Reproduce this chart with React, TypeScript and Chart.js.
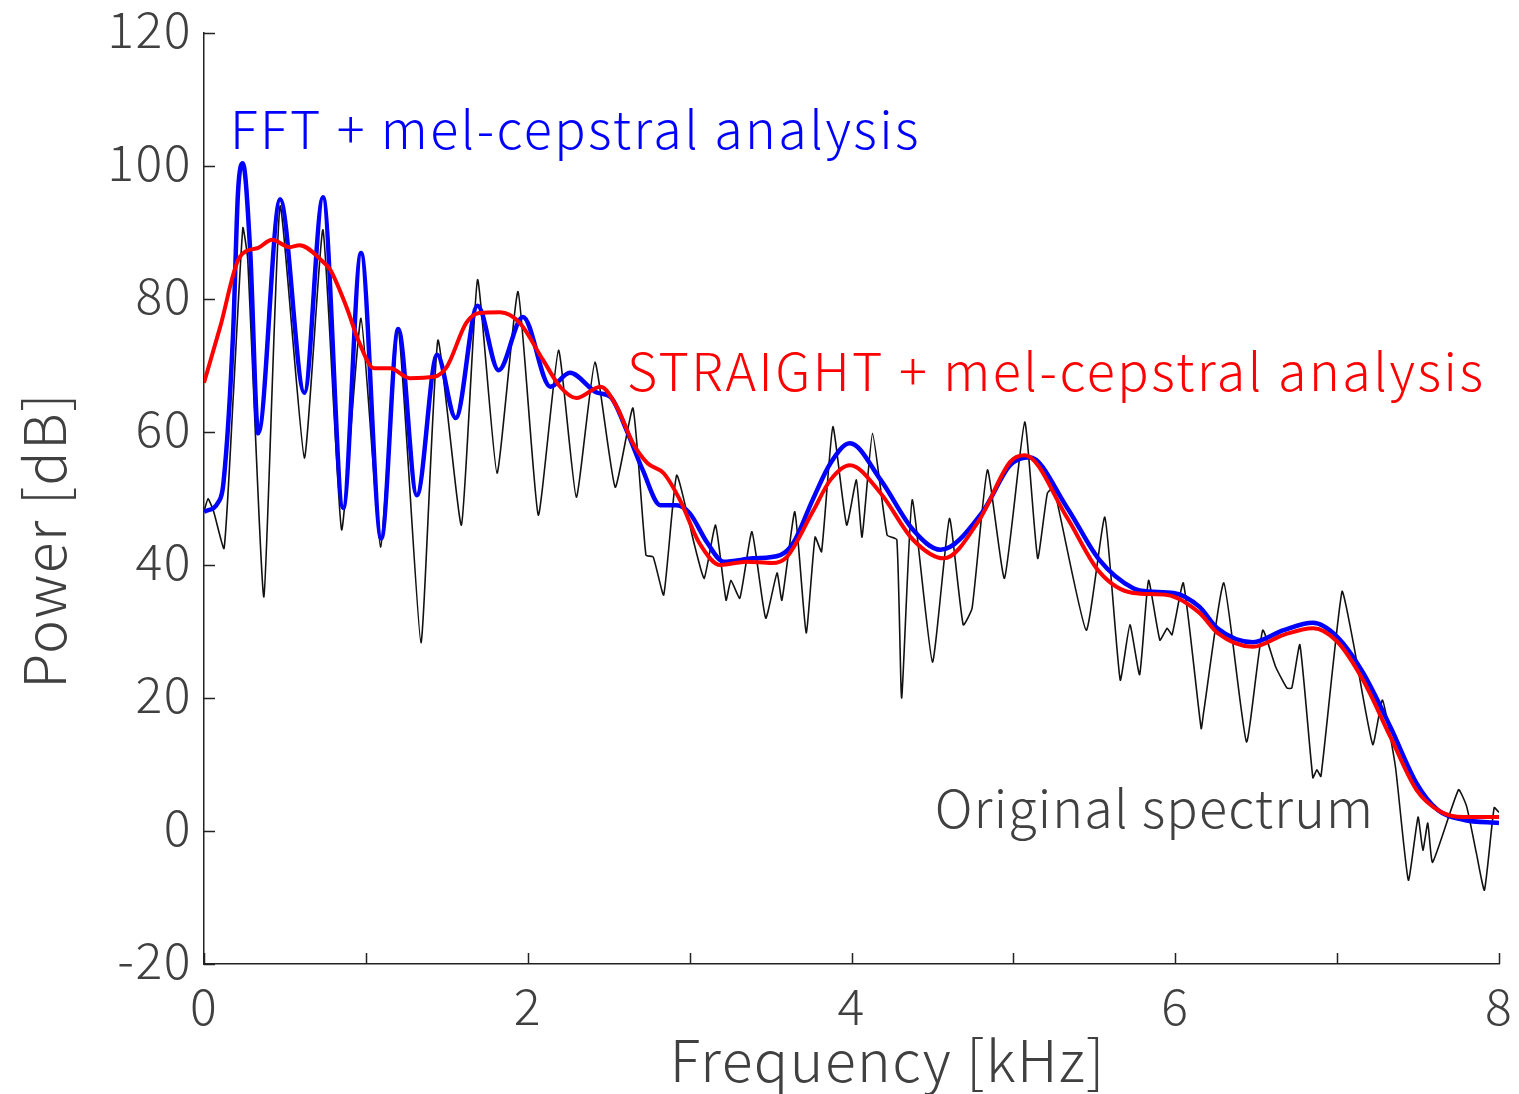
import React, { useEffect, useRef } from "react";
import { Chart, registerables } from "chart.js";

Chart.register(...registerables);

// Original spectrum (black)
const origX = [0, 0.025, 0.06, 0.124, 0.18, 0.24, 0.27, 0.37, 0.47, 0.62, 0.735, 0.85, 0.97, 1.09, 1.2, 1.34, 1.445, 1.59, 1.69, 1.81, 1.94, 2.065, 2.19, 2.3, 2.415, 2.54, 2.65, 2.73, 2.775, 2.84, 2.92, 3.03, 3.09, 3.16, 3.225, 3.255, 3.31, 3.385, 3.47, 3.54, 3.57, 3.65, 3.72, 3.775, 3.815, 3.885, 3.97, 4.03, 4.065, 4.13, 4.22, 4.28, 4.31, 4.375, 4.5, 4.605, 4.69, 4.745, 4.84, 4.945, 5.07, 5.15, 5.21, 5.25, 5.45, 5.565, 5.66, 5.72, 5.78, 5.835, 5.905, 5.95, 5.98, 6.05, 6.16, 6.175, 6.3, 6.44, 6.54, 6.62, 6.69, 6.72, 6.77, 6.85, 6.875, 6.9, 7.03, 7.1, 7.22, 7.28, 7.36, 7.44, 7.5, 7.53, 7.56, 7.59, 7.75, 7.8, 7.86, 7.91, 7.97, 8.0];
const origY = [48, 50, 48, 42.5, 65, 90.7, 86, 35.2, 94, 56.1, 90.4, 45.3, 77.1, 42.7, 75.6, 28.3, 73.8, 46, 82.9, 53.8, 81.1, 47.5, 72.3, 50.2, 70.5, 51.7, 63.6, 41.5, 41.2, 35.5, 53.5, 43, 38, 46, 34.7, 37.7, 35, 45, 32, 38.8, 34.7, 48, 29.8, 44.2, 42, 60.8, 46, 52.8, 44.2, 59.8, 44.5, 43.8, 20, 49.8, 25.4, 47, 31, 33.5, 54.3, 38, 61.5, 41, 50.8, 51.6, 30.2, 47.2, 22.7, 31, 23.5, 37.7, 28.7, 30.5, 29.5, 37.3, 15.4, 17.8, 37.3, 13.4, 30.2, 24.7, 21.5, 21.5, 28, 8, 9.2, 8.2, 36, 28.3, 13, 19.7, 9.7, -7.4, 2.1, -2.9, 1.2, -4.7, 6.2, 3.7, -3.3, -8.9, 3.5, 2.8];

// FFT + mel-cepstral analysis (blue)
const fftX = [0, 0.09, 0.12, 0.18, 0.21, 0.24, 0.285, 0.335, 0.47, 0.62, 0.735, 0.86, 0.97, 1.095, 1.2, 1.315, 1.44, 1.555, 1.69, 1.82, 1.97, 2.14, 2.26, 2.43, 2.51, 2.61, 2.71, 2.82, 2.92, 3.0, 3.11, 3.21, 3.39, 3.56, 3.64, 3.76, 3.87, 3.99, 4.18, 4.38, 4.55, 4.81, 4.98, 5.1, 5.33, 5.53, 5.74, 5.84, 5.99, 6.15, 6.26, 6.48, 6.67, 6.85, 7.0, 7.16, 7.33, 7.49, 7.62, 7.78, 8.0];
const fftY = [48, 49.5, 52.3, 75, 96, 100.4, 87.4, 59.8, 95, 65.9, 95.3, 48.6, 86.9, 44, 75.5, 50.5, 71.6, 62.1, 79, 69.3, 77.3, 66.8, 68.9, 65.9, 65.3, 60.3, 54.3, 49, 49, 47.8, 43.3, 40.5, 41, 41.5, 43.3, 49.8, 55.3, 58.3, 52.8, 45.3, 42.3, 48, 55, 56.2, 48.7, 40.8, 36.5, 36, 35.8, 33.7, 30.5, 28.4, 30.2, 31.3, 29.2, 23.8, 15.6, 7.2, 3.2, 1.7, 1.2];

// STRAIGHT + mel-cepstral analysis (red)
const strX = [0, 0.1, 0.22, 0.335, 0.42, 0.53, 0.59, 0.735, 0.78, 0.88, 0.96, 1.05, 1.15, 1.27, 1.42, 1.5, 1.62, 1.7, 1.83, 1.95, 2.095, 2.2, 2.3, 2.45, 2.55, 2.65, 2.74, 2.84, 2.94, 3.06, 3.19, 3.35, 3.51, 3.6, 3.76, 3.87, 3.99, 4.18, 4.38, 4.57, 4.79, 4.98, 5.07, 5.33, 5.53, 5.74, 5.95, 6.15, 6.26, 6.48, 6.67, 6.85, 7.0, 7.16, 7.33, 7.49, 7.64, 7.78, 8.0];
const strY = [67.4, 75.8, 86.3, 87.7, 88.9, 87.8, 88.1, 85.6, 84.4, 78.8, 73.4, 69.6, 69.6, 68.1, 68.3, 69.8, 76.4, 77.9, 78, 76.4, 70.8, 66.8, 65.1, 66.8, 63.8, 58.3, 55.3, 53.8, 49.8, 43.3, 40, 40.5, 40.3, 41.2, 48, 52.8, 55, 50.8, 43.8, 41, 46.8, 55.5, 56.5, 47.2, 39, 35.8, 35.5, 32.8, 29.8, 27.7, 29.5, 30.5, 28.5, 22.7, 14.1, 6.2, 2.9, 2.1, 2.1];

const yTicks = [-20, 0, 20, 40, 60, 80, 100, 120];
const xTickLabels = ["0", "", "2", "", "4", "", "6", "", "8"];
const xTitle = "Frequency [kHz]";
const yTitle = "Power [dB]";

const labelTexts = ["FFT + mel-cepstral analysis", "STRAIGHT + mel-cepstral analysis", "Original spectrum"];
const labelX = [0.16, 2.613, 4.515];
const labelY = [102.6, 66.2, 0.4];
const labelColors = ["#0000ff", "#ff0000", "#404040"];
const labelSpacing = ["2.4px", "2.5px", "1.2px"];

const FONT = "'Noto Sans CJK JP', 'Noto Sans', sans-serif";
const TEXT = "#404040";
const SPACING = "1.5px";

const pts = (xs: number[], ys: number[]) => xs.map((x, i) => ({ x, y: ys[i] }));

export default function App() {
  const ref = useRef<HTMLCanvasElement | null>(null);
  useEffect(() => {
    document.body.style.margin = "0";
    const canvas = ref.current!;
    const annot = {
      id: "annot",
      beforeDraw(chart: any) {
        (chart.ctx as any).letterSpacing = SPACING;
      },
      afterDatasetsDraw(chart: any) {
        const { ctx, scales, chartArea } = chart;
        ctx.save();
        ctx.font = `300 52px ${FONT}`;
        ctx.textBaseline = "alphabetic";
        ctx.textAlign = "left";
        labelTexts.forEach((t, i) => {
          (ctx as any).letterSpacing = labelSpacing[i];
          ctx.fillStyle = labelColors[i];
          ctx.fillText(t, scales.x.getPixelForValue(labelX[i]), scales.y.getPixelForValue(labelY[i]));
        });
        // axis titles
        (ctx as any).letterSpacing = SPACING;
        ctx.fillStyle = TEXT;
        ctx.font = `300 57px ${FONT}`;
        ctx.textAlign = "center";
        ctx.fillText(xTitle, chartArea.left + (chartArea.right - chartArea.left) * 0.528, chartArea.bottom + 118);
        ctx.save();
        ctx.translate(chartArea.left - 160, chartArea.top + (chartArea.bottom - chartArea.top) * 0.545);
        ctx.rotate(-Math.PI / 2);
        ctx.textBaseline = "middle";
        ctx.fillText(yTitle, 0, 0);
        ctx.restore();
        // inward tick marks
        ctx.strokeStyle = "#222";
        ctx.lineWidth = 1.5;
        const xs = scales.x, ys = scales.y;
        ctx.beginPath();
        for (const t of ys.ticks) {
          const py = Math.round(ys.getPixelForValue(t.value)) + 0.5;
          ctx.moveTo(xs.left, py);
          ctx.lineTo(xs.left + 11, py);
        }
        for (const t of xs.ticks) {
          const px = Math.round(xs.getPixelForValue(t.value)) + 0.5;
          ctx.moveTo(px, ys.bottom);
          ctx.lineTo(px, ys.bottom - 11);
        }
        ctx.stroke();
        ctx.restore();
      },
    };
    const chart = new Chart(canvas, {
      type: "line",
      data: {
        datasets: [
          {
            label: "STRAIGHT + mel-cepstral analysis",
            data: pts(strX, strY),
            borderColor: "#ff0000",
            borderWidth: 4,
            pointRadius: 0,
            cubicInterpolationMode: "monotone",
            order: 0,
          },
          {
            label: "FFT + mel-cepstral analysis",
            data: pts(fftX, fftY),
            borderColor: "#0000ff",
            borderWidth: 4.5,
            pointRadius: 0,
            cubicInterpolationMode: "monotone",
            order: 1,
          },
          {
            label: "Original spectrum",
            data: pts(origX, origY),
            borderColor: "#111111",
            borderWidth: 1.6,
            pointRadius: 0,
            tension: 0.15,
            order: 2,
          },
        ],
      },
      options: {
        animation: false,
        responsive: false,
        devicePixelRatio: 1,
        layout: { padding: { top: 33, right: 20, left: 0, bottom: 0 } },
        plugins: { legend: { display: false }, tooltip: { enabled: false } },
        scales: {
          x: {
            type: "linear",
            min: 0,
            max: 8,
            afterFit: (s: any) => { s.height = 130; s.paddingLeft = 0; s.paddingRight = 0; },
            afterBuildTicks: (s: any) => { s.ticks = xTickLabels.map((_, i) => ({ value: i })); },
            ticks: {
              callback: (v: any) => xTickLabels[Math.round(Number(v))] ?? "",
              font: { family: FONT, size: 50, weight: 300 },
              color: TEXT,
              padding: 12,
              maxRotation: 0,
              autoSkip: false,
            },
            grid: { drawOnChartArea: false, drawTicks: false },
            border: { display: true, color: "#222", width: 1.5 },
            title: { display: false },
          },
          y: {
            type: "linear",
            min: -20,
            max: 120,
            afterFit: (s: any) => { s.width = 204; s.paddingTop = 0; s.paddingBottom = 0; },
            afterBuildTicks: (s: any) => { s.ticks = yTicks.map((v) => ({ value: v })); },
            ticks: {
              font: { family: FONT, size: 50, weight: 300 },
              color: TEXT,
              padding: 12,
              labelOffset: -4,
              autoSkip: false,
            },
            grid: { drawOnChartArea: false, drawTicks: false },
            border: { display: true, color: "#222", width: 1.5 },
            title: { display: false },
          },
        },
      },
      plugins: [annot],
    });
    return () => chart.destroy();
  }, []);
  return (
    <div style={{ position: "absolute", left: 0, top: 0, width: 1519, height: 1094, background: "#fff" }}>
      <canvas ref={ref} width={1519} height={1094} />
    </div>
  );
}
